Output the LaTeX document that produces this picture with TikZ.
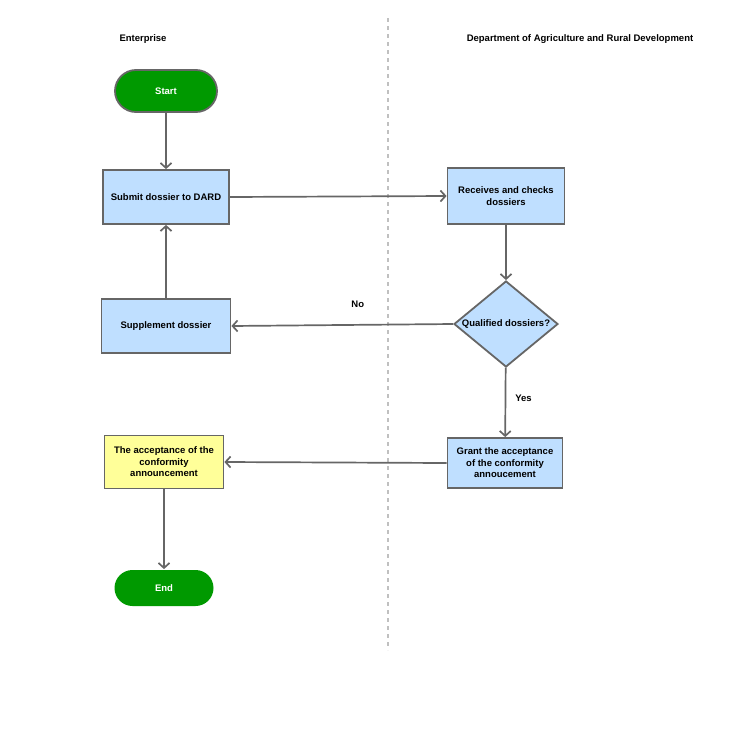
\documentclass[tikz,border=0pt]{standalone}
\usepackage{fontspec}
\setmainfont{Liberation Sans}
\usetikzlibrary{shapes.geometric,arrows.meta}

\definecolor{linegray}{HTML}{666666}
\definecolor{lanegray}{HTML}{C0C0C0}
\definecolor{startgreen}{HTML}{009900}
\definecolor{boxblue}{HTML}{BFDFFF}
\definecolor{boxyellow}{HTML}{FFFF99}

\begin{document}
\begin{tikzpicture}[x=1pt,y=-1pt,font=\fontsize{9.5}{11.5}\selectfont\bfseries]
	\tikzset{every node/.style={align=center,inner sep=0pt}}
	\tikzset{terminal/.style={fill=startgreen,text=white,draw=linegray,line width=1.8pt}}
	\tikzset{process/.style={rectangle,fill=boxblue,draw=linegray,line width=1.8pt}}
	\tikzset{decision/.style={diamond,fill=boxblue,draw=linegray,line width=1.8pt,minimum width=104pt,minimum height=86pt}}
	\tikzset{flow/.style={draw=linegray,line width=1.7pt,-{Straight Barb[length=5pt,width=11pt]}}}
	\useasboundingbox (0,0) rectangle (750,750);
	% lanes
	\node (enterprise) at (143,39) {Enterprise};
	\node (dard) at (580,39) {Department of Agriculture and Rural Development};
	\coordinate (lanetop) at (388,18);
	\coordinate (lanebottom) at (388,650);
	\draw[lanegray,line width=1.2pt,dash pattern=on 4pt off 4pt] (lanetop) -- (lanebottom);
	% nodes
	\node[terminal,rounded corners=21pt,minimum width=102pt,minimum height=42pt] (start) at (166,91) {Start};
	\node[process,minimum width=126pt,minimum height=54pt] (submit) at (166,197) {Submit dossier to DARD};
	\node[process,minimum width=117pt,minimum height=56pt] (receives) at (506,196) {Receives and checks\\dossiers};
	\node[decision,label={center:Qualified dossiers?}] (qualified) at (506,324) {};
	\node[process,minimum width=129pt,minimum height=54pt] (supplement) at (166,326) {Supplement dossier};
	\node[process,minimum width=115pt,minimum height=50pt] (grant) at (505,463) {Grant the acceptance\\of the conformity\\annoucement};
	\node[process,fill=boxyellow,minimum width=119pt,minimum height=53pt] (acceptance) at (164,462) {The acceptance of the\\conformity\\announcement};
	\node[terminal,draw=none,rounded corners=18pt,minimum width=99pt,minimum height=36pt] (stop) at (164,588) {End};
	% connectors
	\draw[flow] (start) -- (submit);
	\draw[flow] (submit.east) -- (receives.west);
	\draw[flow] (receives) -- (qualified);
	\draw[flow] (qualified.west) -- node[pos=0.43,yshift=21pt]{No} (supplement.east);
	\draw[flow] (supplement) -- (submit);
	\draw[flow] (qualified) -- node[pos=0.44,xshift=18pt]{Yes} (grant);
	\draw[flow] (grant.west) -- (acceptance.east);
	\draw[flow] (acceptance) -- (stop);
\end{tikzpicture}
\end{document}
